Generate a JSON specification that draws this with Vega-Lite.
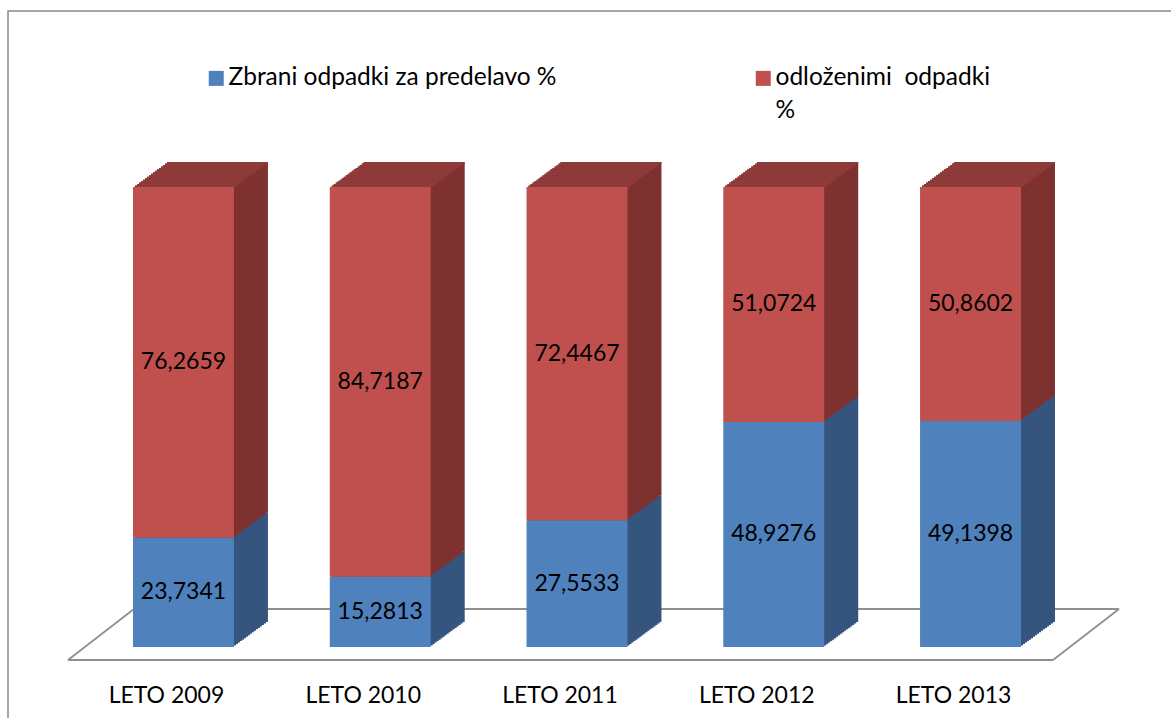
{
  "$schema": "https://vega.github.io/schema/vega-lite/v6.json",
  "width": 1166,
  "height": 710,
  "autosize": {"type": "none"},
  "padding": {"left": 8, "top": 11, "right": -3, "bottom": -3},
  "background": "white",
  "data": {"values": [
    {"cat": "LETO 2009", "series": "Zbrani odpadki za predelavo %", "value": 23.7341},
    {"cat": "LETO 2009", "series": "odloženimi  odpadki %", "value": 76.2659},
    {"cat": "LETO 2010", "series": "Zbrani odpadki za predelavo %", "value": 15.2813},
    {"cat": "LETO 2010", "series": "odloženimi  odpadki %", "value": 84.7187},
    {"cat": "LETO 2011", "series": "Zbrani odpadki za predelavo %", "value": 27.5533},
    {"cat": "LETO 2011", "series": "odloženimi  odpadki %", "value": 72.4467},
    {"cat": "LETO 2012", "series": "Zbrani odpadki za predelavo %", "value": 48.9276},
    {"cat": "LETO 2012", "series": "odloženimi  odpadki %", "value": 51.0724},
    {"cat": "LETO 2013", "series": "Zbrani odpadki za predelavo %", "value": 49.1398},
    {"cat": "LETO 2013", "series": "odloženimi  odpadki %", "value": 50.8602}
  ]},
  "layer": [
    {"data": {"values": [{}]}, "mark": {"type": "rule", "color": "#8f8f8f", "strokeWidth": 1.8, "xOffset": -115.5, "x2Offset": 82.5, "yOffset": 13},
     "encoding": {"x": {"datum": "LETO 2009", "type": "nominal", "title": null}, "x2": {"datum": "LETO 2013"}, "y": {"datum": 0, "type": "quantitative"}}},
    {"data": {"values": [{}]}, "mark": {"type": "rule", "color": "#8f8f8f", "strokeWidth": 1.8, "xOffset": -49.5, "x2Offset": 148.5, "yOffset": -38},
     "encoding": {"x": {"datum": "LETO 2009", "type": "nominal", "title": null}, "x2": {"datum": "LETO 2013"}, "y": {"datum": 0, "type": "quantitative"}}},
    {"data": {"values": [{}]}, "mark": {"type": "rule", "color": "#8f8f8f", "strokeWidth": 1.8, "xOffset": -115.5, "x2Offset": -49.5, "yOffset": 13, "y2Offset": -38},
     "encoding": {"x": {"datum": "LETO 2009", "type": "nominal", "title": null}, "x2": {"datum": "LETO 2009"}, "y": {"datum": 0, "type": "quantitative"}, "y2": {"datum": 0}}},
    {"data": {"values": [{}]}, "mark": {"type": "rule", "color": "#8f8f8f", "strokeWidth": 1.8, "xOffset": 82.5, "x2Offset": 148.5, "yOffset": 13, "y2Offset": -38},
     "encoding": {"x": {"datum": "LETO 2013", "type": "nominal", "title": null}, "x2": {"datum": "LETO 2013"}, "y": {"datum": 0, "type": "quantitative"}, "y2": {"datum": 0}}},
    {
      "transform": [{"stack": "value", "groupby": ["cat"], "sort": [{"field": "series", "order": "ascending"}], "as": ["v0", "v1"]}],
      "layer": [
        {
          "encoding": {
            "x": {"field": "cat", "type": "nominal", "title": null, "sort": null,
                  "scale": {"type": "band", "domain": ["LETO 2009", "LETO 2010", "LETO 2011", "LETO 2012", "LETO 2013"], "range": [77.1, 1060.9], "paddingInner": 0.487, "paddingOuter": 0.2435}},
            "y": {"field": "v1", "type": "quantitative", "title": null, "scale": {"domain": [0, 100], "range": [636, 176], "nice": false, "zero": false}},
            "y2": {"field": "v0"}
          },
          "layer": [
            {"mark": {"type": "bar", "xOffset": 34, "yOffset": -25, "y2Offset": -25}, "encoding": {"fill": {"condition": {"test": "datum.series == 'odloženimi  odpadki %'", "value": "#7e3230"}, "value": "#35557e"}}},
            {"mark": {"type": "bar", "xOffset": 32, "yOffset": -23.53, "y2Offset": -23.53}, "encoding": {"fill": {"condition": {"test": "datum.series == 'odloženimi  odpadki %'", "value": "#7e3230"}, "value": "#35557e"}}},
            {"mark": {"type": "bar", "xOffset": 30, "yOffset": -22.06, "y2Offset": -22.06}, "encoding": {"fill": {"condition": {"test": "datum.series == 'odloženimi  odpadki %'", "value": "#7e3230"}, "value": "#35557e"}}},
            {"mark": {"type": "bar", "xOffset": 28, "yOffset": -20.59, "y2Offset": -20.59}, "encoding": {"fill": {"condition": {"test": "datum.series == 'odloženimi  odpadki %'", "value": "#7e3230"}, "value": "#35557e"}}},
            {"mark": {"type": "bar", "xOffset": 26, "yOffset": -19.12, "y2Offset": -19.12}, "encoding": {"fill": {"condition": {"test": "datum.series == 'odloženimi  odpadki %'", "value": "#7e3230"}, "value": "#35557e"}}},
            {"mark": {"type": "bar", "xOffset": 24, "yOffset": -17.65, "y2Offset": -17.65}, "encoding": {"fill": {"condition": {"test": "datum.series == 'odloženimi  odpadki %'", "value": "#7e3230"}, "value": "#35557e"}}},
            {"mark": {"type": "bar", "xOffset": 22, "yOffset": -16.18, "y2Offset": -16.18}, "encoding": {"fill": {"condition": {"test": "datum.series == 'odloženimi  odpadki %'", "value": "#7e3230"}, "value": "#35557e"}}},
            {"mark": {"type": "bar", "xOffset": 20, "yOffset": -14.71, "y2Offset": -14.71}, "encoding": {"fill": {"condition": {"test": "datum.series == 'odloženimi  odpadki %'", "value": "#7e3230"}, "value": "#35557e"}}},
            {"mark": {"type": "bar", "xOffset": 18, "yOffset": -13.24, "y2Offset": -13.24}, "encoding": {"fill": {"condition": {"test": "datum.series == 'odloženimi  odpadki %'", "value": "#7e3230"}, "value": "#35557e"}}},
            {"mark": {"type": "bar", "xOffset": 16, "yOffset": -11.76, "y2Offset": -11.76}, "encoding": {"fill": {"condition": {"test": "datum.series == 'odloženimi  odpadki %'", "value": "#7e3230"}, "value": "#35557e"}}},
            {"mark": {"type": "bar", "xOffset": 14, "yOffset": -10.29, "y2Offset": -10.29}, "encoding": {"fill": {"condition": {"test": "datum.series == 'odloženimi  odpadki %'", "value": "#7e3230"}, "value": "#35557e"}}},
            {"mark": {"type": "bar", "xOffset": 12, "yOffset": -8.82, "y2Offset": -8.82}, "encoding": {"fill": {"condition": {"test": "datum.series == 'odloženimi  odpadki %'", "value": "#7e3230"}, "value": "#35557e"}}},
            {"mark": {"type": "bar", "xOffset": 10, "yOffset": -7.35, "y2Offset": -7.35}, "encoding": {"fill": {"condition": {"test": "datum.series == 'odloženimi  odpadki %'", "value": "#7e3230"}, "value": "#35557e"}}},
            {"mark": {"type": "bar", "xOffset": 8, "yOffset": -5.88, "y2Offset": -5.88}, "encoding": {"fill": {"condition": {"test": "datum.series == 'odloženimi  odpadki %'", "value": "#7e3230"}, "value": "#35557e"}}},
            {"mark": {"type": "bar", "xOffset": 6, "yOffset": -4.41, "y2Offset": -4.41}, "encoding": {"fill": {"condition": {"test": "datum.series == 'odloženimi  odpadki %'", "value": "#7e3230"}, "value": "#35557e"}}},
            {"mark": {"type": "bar", "xOffset": 4, "yOffset": -2.94, "y2Offset": -2.94}, "encoding": {"fill": {"condition": {"test": "datum.series == 'odloženimi  odpadki %'", "value": "#7e3230"}, "value": "#35557e"}}},
            {"mark": {"type": "bar", "xOffset": 2, "yOffset": -1.47, "y2Offset": -1.47}, "encoding": {"fill": {"condition": {"test": "datum.series == 'odloženimi  odpadki %'", "value": "#7e3230"}, "value": "#35557e"}}},
            {
              "transform": [{"filter": "datum.series == 'odloženimi  odpadki %'"}],
              "encoding": {"y2": {"field": "v1"}, "fill": {"value": "#8f3b39"}},
              "layer": [
                {"mark": {"type": "bar", "xOffset": 34, "yOffset": -25, "y2Offset": -23.4}},
                {"mark": {"type": "bar", "xOffset": 32, "yOffset": -23.53, "y2Offset": -21.93}},
                {"mark": {"type": "bar", "xOffset": 30, "yOffset": -22.06, "y2Offset": -20.46}},
                {"mark": {"type": "bar", "xOffset": 28, "yOffset": -20.59, "y2Offset": -18.99}},
                {"mark": {"type": "bar", "xOffset": 26, "yOffset": -19.12, "y2Offset": -17.52}},
                {"mark": {"type": "bar", "xOffset": 24, "yOffset": -17.65, "y2Offset": -16.05}},
                {"mark": {"type": "bar", "xOffset": 22, "yOffset": -16.18, "y2Offset": -14.58}},
                {"mark": {"type": "bar", "xOffset": 20, "yOffset": -14.71, "y2Offset": -13.11}},
                {"mark": {"type": "bar", "xOffset": 18, "yOffset": -13.24, "y2Offset": -11.64}},
                {"mark": {"type": "bar", "xOffset": 16, "yOffset": -11.76, "y2Offset": -10.16}},
                {"mark": {"type": "bar", "xOffset": 14, "yOffset": -10.29, "y2Offset": -8.69}},
                {"mark": {"type": "bar", "xOffset": 12, "yOffset": -8.82, "y2Offset": -7.22}},
                {"mark": {"type": "bar", "xOffset": 10, "yOffset": -7.35, "y2Offset": -5.75}},
                {"mark": {"type": "bar", "xOffset": 8, "yOffset": -5.88, "y2Offset": -4.28}},
                {"mark": {"type": "bar", "xOffset": 6, "yOffset": -4.41, "y2Offset": -2.81}},
                {"mark": {"type": "bar", "xOffset": 4, "yOffset": -2.94, "y2Offset": -1.34}},
                {"mark": {"type": "bar", "xOffset": 2, "yOffset": -1.47, "y2Offset": 0.13}}
              ]
            },
            {
              "mark": {"type": "bar"},
              "encoding": {
                "color": {
                  "field": "series", "type": "nominal",
                  "sort": ["Zbrani odpadki za predelavo %", "odloženimi  odpadki %"],
                  "scale": {"domain": ["Zbrani odpadki za predelavo %", "odloženimi  odpadki %"], "range": ["#4f81bd", "#c0504d"]},
                  "legend": {
                    "title": null, "orient": "none", "legendX": 196, "legendY": 55,
                    "direction": "horizontal", "columns": 2, "columnPadding": 194, "padding": 0,
                    "symbolType": "square", "symbolSize": 225, "symbolStrokeWidth": 0,
                    "labelFontSize": 24.5, "labelOffset": 0, "labelLimit": 600, "labelColor": "#000000",
                    "labelBaseline": "middle",
                    "labelExpr": "datum.value == 'odloženimi  odpadki %' ? ['odloženimi\u00a0 odpadki', '%'] : [datum.label, '']"
                  }
                }
              }
            }
          ]
        },
        {
          "transform": [
            {"fold": ["v0", "v1"], "as": ["key", "pos"]},
            {"aggregate": [{"op": "mean", "field": "pos", "as": "mid"}], "groupby": ["cat", "series", "value"]}
          ],
          "mark": {"type": "text", "fontSize": 23, "color": "#000000", "baseline": "middle", "align": "center"},
          "encoding": {
            "x": {"field": "cat", "type": "nominal", "title": null},
            "y": {"field": "mid", "type": "quantitative", "title": null},
            "text": {"field": "value", "type": "quantitative", "format": ".4f"}
          }
        }
      ]
    }
  ],
  "config": {
    "font": "Lato",
    "view": {"stroke": "#8a8a8a", "strokeWidth": 1.5},
    "locale": {"number": {"decimal": ",", "thousands": ".", "grouping": [3], "currency": ["", " €"]}},
    "style": {"guide-label": {"lineHeight": 33}},
    "axisY": {"disable": true},
    "axisX": {"domain": false, "ticks": false, "grid": false, "labelFontSize": 23, "labelColor": "#000000", "labelPadding": 0, "labelBaseline": "alphabetic", "labelOffset": -17, "offset": -19, "labelAngle": 0}
  }
}
